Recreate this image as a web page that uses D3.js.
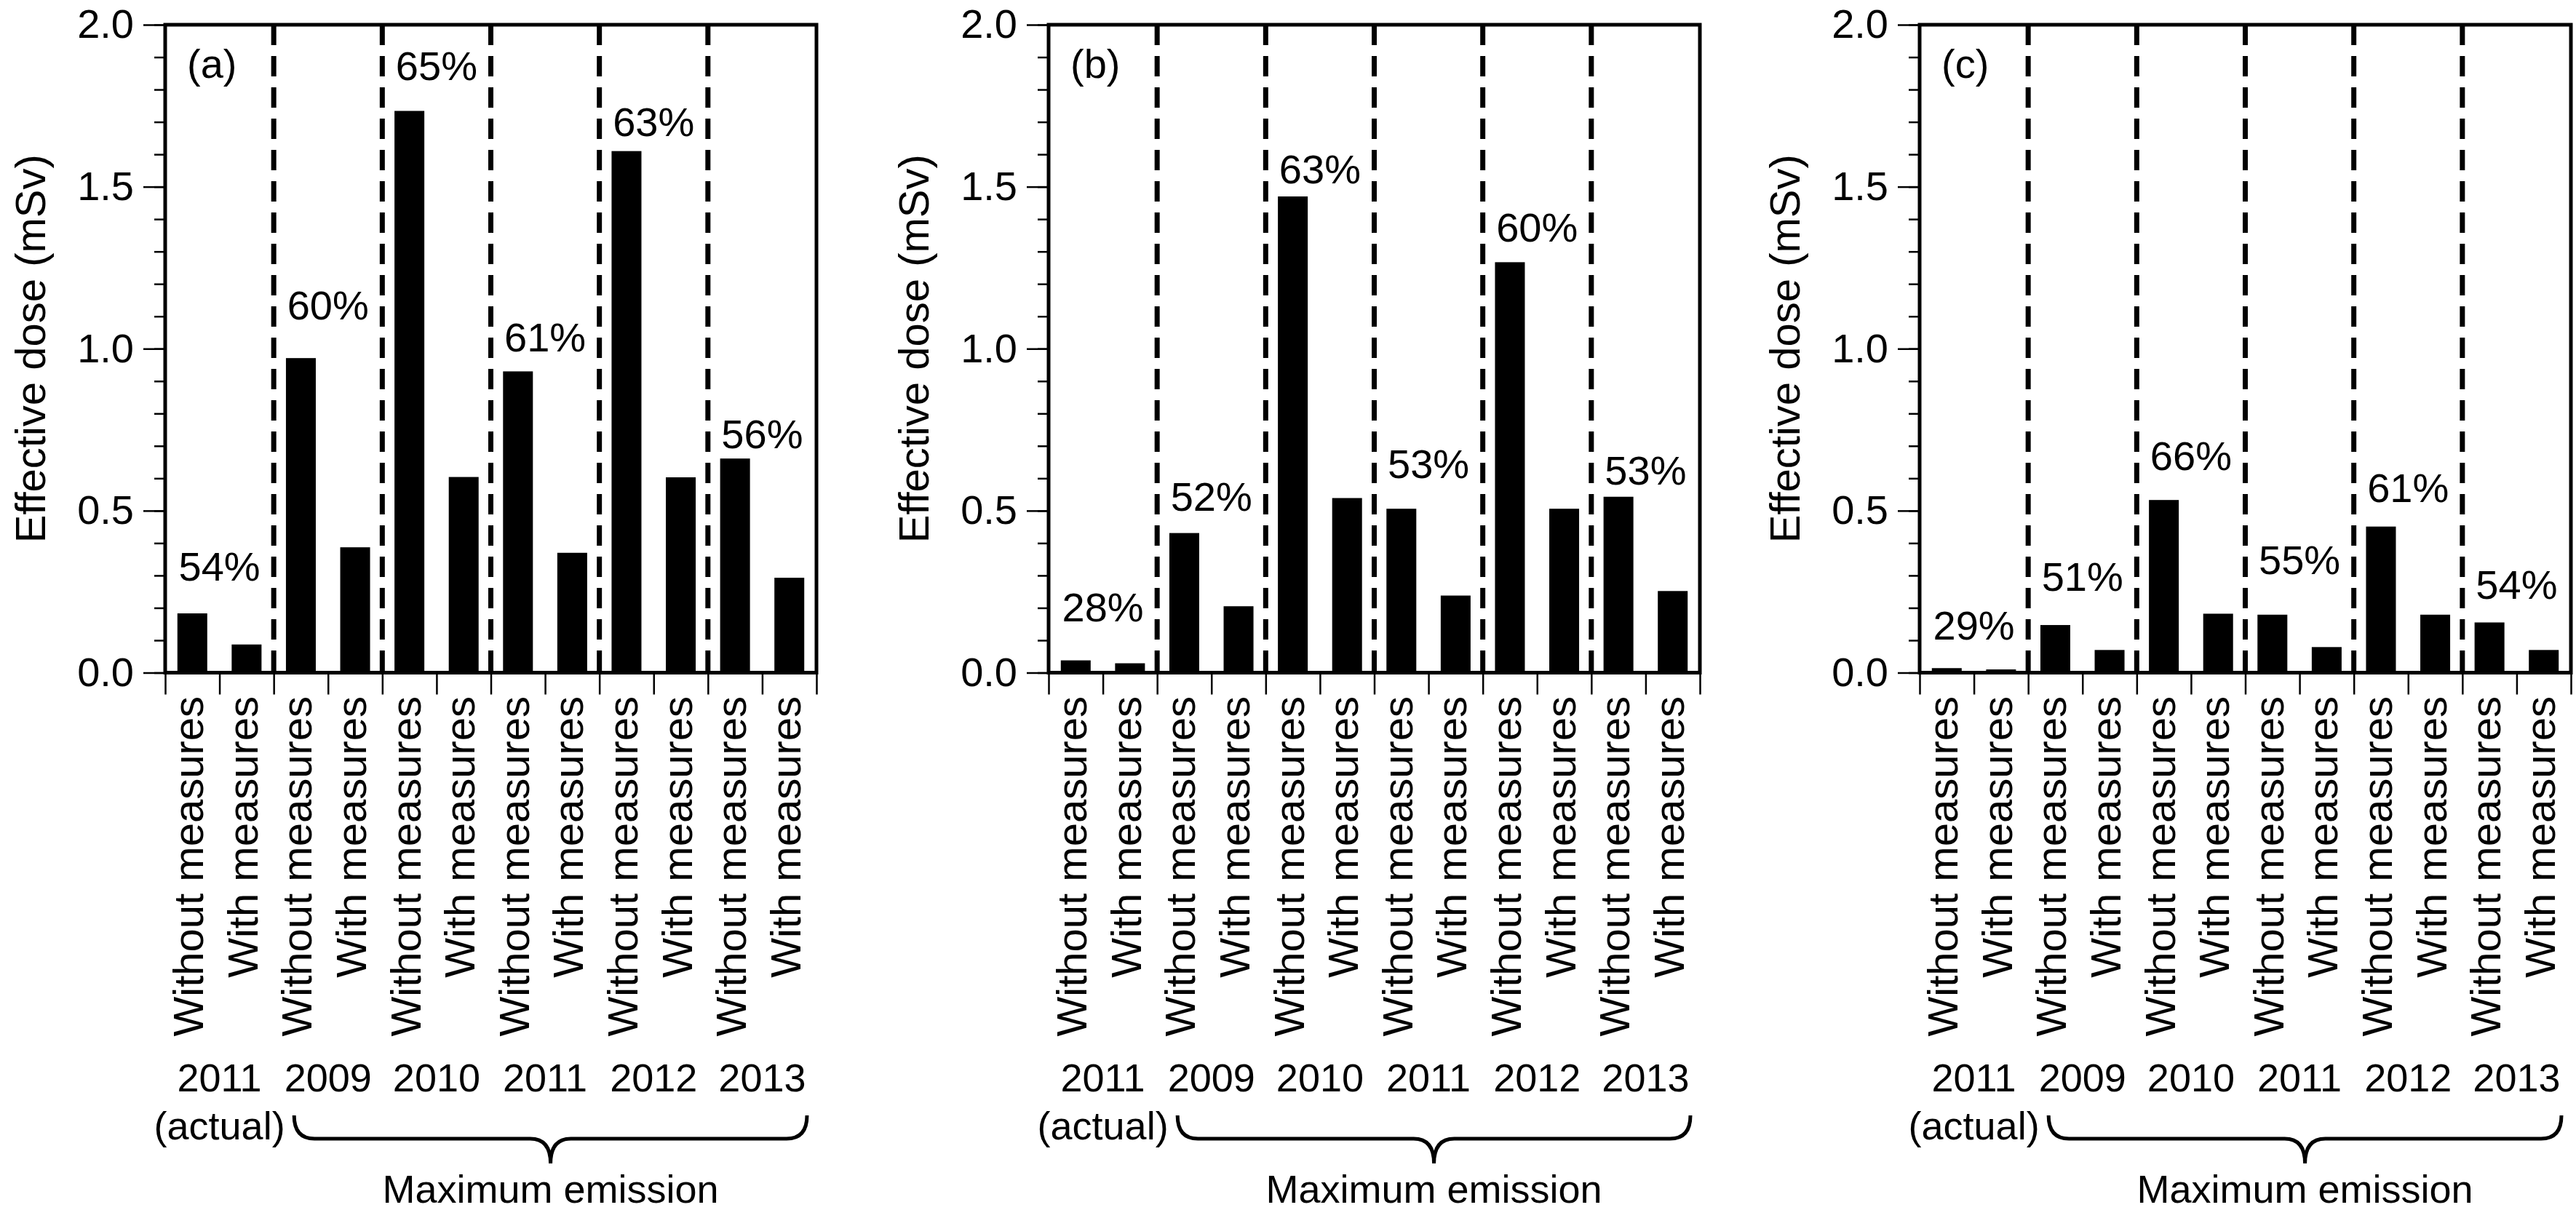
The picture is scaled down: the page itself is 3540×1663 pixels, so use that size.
<!DOCTYPE html>
<html lang="en">
<head>
<meta charset="utf-8">
<title>Effective dose with and without measures</title>
<script src="https://d3js.org/d3.v7.min.js"></script>
<style>
  body { margin: 0; background: #fff; }
  text { font-family: "Liberation Sans", Arial, Helvetica, sans-serif; fill: #000; }
</style>
</head>
<body>
<div class="chart"></div>
<script>
// categories on the x axis (one bar each)
const categories = ["Without measures", "With measures",
                    "Without measures", "With measures",
                    "Without measures", "With measures",
                    "Without measures", "With measures",
                    "Without measures", "With measures",
                    "Without measures", "With measures"];
const years = ["2011", "2009", "2010", "2011", "2012", "2013"];
const panelNames = ["(a)", "(b)", "(c)"];

// effective dose (mSv)
const doseA = [0.183, 0.087, 0.971, 0.387, 1.734, 0.604, 0.930, 0.370, 1.610, 0.603, 0.661, 0.293];
const doseB = [0.038, 0.029, 0.431, 0.205, 1.470, 0.539, 0.506, 0.238, 1.267, 0.506, 0.543, 0.252];
const doseC = [0.014, 0.010, 0.147, 0.070, 0.533, 0.182, 0.179, 0.079, 0.451, 0.179, 0.155, 0.070];

// reduction labels and the dose level where each sits
const pctA = ["54%", "60%", "65%", "61%", "63%", "56%"];
const pctB = ["28%", "52%", "63%", "53%", "60%", "53%"];
const pctC = ["29%", "51%", "66%", "55%", "61%", "54%"];
const pctLevelA = [0.283, 1.090, 1.830, 0.991, 1.657, 0.692];
const pctLevelB = [0.158, 0.500, 1.510, 0.600, 1.330, 0.580];
const pctLevelC = [0.103, 0.253, 0.625, 0.304, 0.526, 0.229];

const yTicks = [0, 0.5, 1.0, 1.5, 2.0];

const width = 3540, height = 1663;
const plotTop = 34, plotBottom = 924.5, plotW = 895;
const lefts = [227, 1441, 2638];

const svg = d3.select(".chart").append("svg")
    .attr("width", width)
    .attr("height", height);

const panels = [
    {dose: doseA, pct: pctA, level: pctLevelA},
    {dose: doseB, pct: pctB, level: pctLevelB},
    {dose: doseC, pct: pctC, level: pctLevelC}
];

const y = d3.scaleLinear().domain([0, 2]).range([plotBottom, plotTop]);

panels.forEach((p, k) => {
    const left = lefts[k], right = left + plotW;
    const g = svg.append("g");

    const x = d3.scaleBand()
        .domain(d3.range(categories.length))
        .range([left, right])
        .paddingInner(0.45)
        .paddingOuter(0.225);
    // slot boundaries
    const xb = d3.scaleLinear().domain([0, categories.length]).range([left, right]);

    // bars
    g.selectAll(".bar")
        .data(p.dose)
        .enter()
        .append("rect")
        .attr("class", "bar")
        .attr("x", (d, i) => x(i))
        .attr("width", x.bandwidth())
        .attr("y", d => y(d))
        .attr("height", d => y(0) - y(d))
        .attr("fill", "#000");

    // dashed separators between years
    g.selectAll(".sep")
        .data([2, 4, 6, 8, 10])
        .enter()
        .append("line")
        .attr("x1", d => xb(d)).attr("x2", d => xb(d))
        .attr("y1", plotTop).attr("y2", plotBottom)
        .attr("stroke", "#000")
        .attr("stroke-width", 7)
        .attr("stroke-dasharray", "28,15");

    // y axis: minor and major ticks
    const minor = g.append("g")
        .attr("transform", `translate(${left},0)`)
        .call(d3.axisLeft(y).tickValues(d3.range(0, 2.001, 0.1)).tickSize(15).tickFormat(""));
    minor.select(".domain").remove();
    minor.selectAll("line").attr("stroke-width", 2.5);

    const major = g.append("g")
        .attr("transform", `translate(${left},0)`)
        .call(d3.axisLeft(y).tickValues(yTicks).tickSize(30).tickPadding(13).tickFormat(d3.format(".1f")));
    major.select(".domain").remove();
    major.selectAll("line").attr("stroke-width", 2.5);
    major.selectAll("text")
        .attr("font-size", 56)
        .style("font-family", "'Liberation Sans', Arial, sans-serif");

    // x axis ticks at slot boundaries
    const xa = g.append("g")
        .attr("transform", `translate(0,${plotBottom})`)
        .call(d3.axisBottom(xb).tickValues(d3.range(0, categories.length + 1)).tickSize(30).tickFormat(""));
    xa.select(".domain").remove();
    xa.selectAll("line").attr("stroke-width", 2.5);

    // frame
    g.append("rect")
        .attr("x", left).attr("y", plotTop)
        .attr("width", plotW).attr("height", plotBottom - plotTop)
        .attr("fill", "none")
        .attr("stroke", "#000")
        .attr("stroke-width", 5);

    // y label
    g.append("text")
        .attr("transform", `translate(${left - 165},${(plotTop + plotBottom) / 2}) rotate(-90)`)
        .attr("text-anchor", "middle")
        .attr("font-size", 58)
        .text("Effective dose (mSv)");

    // panel letter
    g.append("text")
        .attr("x", left + 30).attr("y", 107)
        .attr("font-size", 56)
        .text(panelNames[k]);

    // percentage labels centred on each pair
    g.selectAll(".pct")
        .data(p.pct)
        .enter()
        .append("text")
        .attr("x", (d, i) => xb(2 * i + 1))
        .attr("y", (d, i) => y(p.level[i]))
        .attr("text-anchor", "middle")
        .attr("font-size", 56)
        .text(d => d);

    // rotated category labels
    g.selectAll(".cat")
        .data(categories)
        .enter()
        .append("text")
        .attr("transform", (d, i) => `translate(${x(i) + x.bandwidth() / 2 + 15},957) rotate(-90)`)
        .attr("text-anchor", "end")
        .attr("font-size", 58)
        .text(d => d);

    // years
    g.selectAll(".year")
        .data(years)
        .enter()
        .append("text")
        .attr("x", (d, i) => xb(2 * i + 1))
        .attr("y", 1500)
        .attr("text-anchor", "middle")
        .attr("font-size", 54)
        .text(d => d);

    g.append("text")
        .attr("x", xb(1)).attr("y", 1566)
        .attr("text-anchor", "middle")
        .attr("font-size", 54)
        .text("(actual)");

    // brace under the maximum emission years
    const bx1 = xb(2) + 28, bx2 = right - 13, bm = (bx1 + bx2) / 2;
    const yEnd = 1533, yLine = 1565, yTip = 1599, r = 28;
    const brace = d3.path();
    brace.moveTo(bx1, yEnd);
    brace.quadraticCurveTo(bx1, yLine, bx1 + r, yLine);
    brace.lineTo(bm - r, yLine);
    brace.quadraticCurveTo(bm, yLine, bm, yTip);
    brace.quadraticCurveTo(bm, yLine, bm + r, yLine);
    brace.lineTo(bx2 - r, yLine);
    brace.quadraticCurveTo(bx2, yLine, bx2, yEnd);
    g.append("path")
        .attr("d", brace.toString())
        .attr("fill", "none")
        .attr("stroke", "#000")
        .attr("stroke-width", 5);

    g.append("text")
        .attr("x", bm).attr("y", 1653)
        .attr("text-anchor", "middle")
        .attr("font-size", 54)
        .text("Maximum emission");
});
</script>
</body>
</html>
